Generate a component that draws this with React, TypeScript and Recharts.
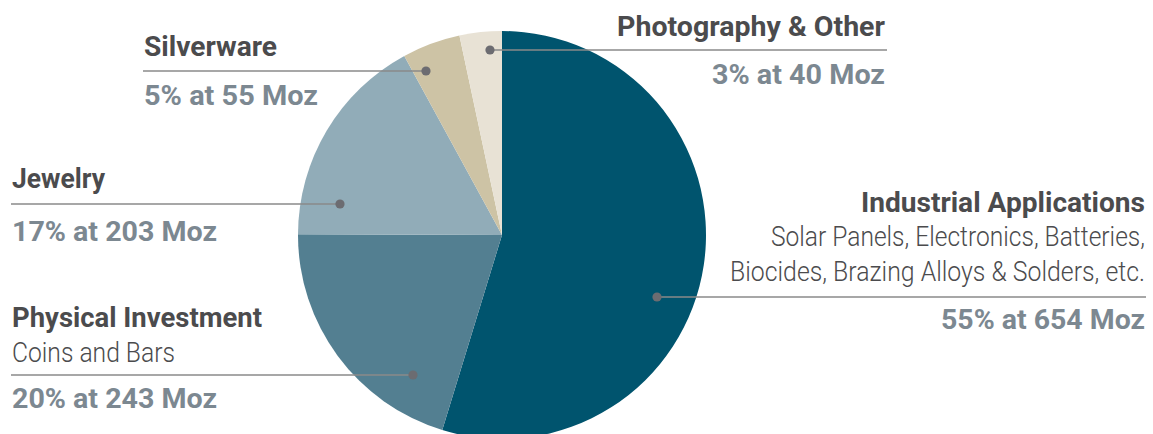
import React from "react";
import { PieChart, Pie, Cell } from "recharts";

// ---- data ----
const categories = [
  "Industrial Applications",
  "Physical Investment",
  "Jewelry",
  "Silverware",
  "Photography & Other",
];
const valuesMoz = [654, 243, 203, 55, 40];
const sharesPct = [55, 20, 17, 5, 3];
const detailLines = [
  ["Solar Panels, Electronics, Batteries,", "Biocides, Brazing Alloys & Solders, etc."],
  ["Coins and Bars"],
  [],
  [],
  [],
];

// ---- styles ----
const sliceColors = ["#00546e", "#537f91", "#91acb8", "#cdc3a5", "#e8e2d5"];
const FONT = "Roboto, 'Noto Sans', sans-serif";
const titleColor = "#4b4b4d";
const valueColor = "#7c8891";
const lineColor = "#8a8a8a";
const dotColor = "#6c6c71";

const data = categories.map((name, i) => ({
  name,
  value: valuesMoz[i],
  share: sharesPct[i],
  details: detailLines[i],
}));

// label layout, offsets relative to pie centre
type LabelLayout = {
  dot: [number, number];
  lineX: number;
  anchor: "start" | "end";
  textX: number;
  titleY: number;
  detailY: number[];
  valueY: number;
  titleW: number;
  detailW: number[];
  valueW: number;
};
const labelLayout: LabelLayout[] = [
  { dot: [155, 62], lineX: 644, anchor: "end", textX: 643, titleY: -23, detailY: [11, 46], valueY: 94, titleW: 284, detailW: [374, 415], valueW: 204 },
  { dot: [-89, 140], lineX: -491, anchor: "start", textX: -490, titleY: 92, detailY: [127], valueY: 173, titleW: 250, detailW: [163], valueW: 205 },
  { dot: [-162, -31], lineX: -491, anchor: "start", textX: -490, titleY: -47, detailY: [], valueY: 6, titleW: 93, detailW: [], valueW: 205 },
  { dot: [-76, -164], lineX: -359, anchor: "start", textX: -358, titleY: -179, detailY: [], valueY: -130, titleW: 133, detailW: [], valueW: 174 },
  { dot: [-12, -185], lineX: 385, anchor: "end", textX: 383, titleY: -199, detailY: [], valueY: -151, titleW: 268, detailW: [], valueW: 173 },
];

const renderLabel = (props: any) => {
  const { cx, cy, index, payload } = props;
  const L = labelLayout[index];
  const d = payload && payload.name ? payload : data[index];
  const dx = cx + L.dot[0];
  const dy = cy + L.dot[1];
  const tx = cx + L.textX;
  return (
    <g key={`lbl-${index}`}>
      <line x1={dx} y1={dy} x2={cx + L.lineX} y2={dy} stroke={lineColor} strokeWidth={1.4} />
      <circle cx={dx} cy={dy} r={4.6} fill={dotColor} />
      <text
        x={tx}
        y={cy + L.titleY}
        textAnchor={L.anchor}
        fontFamily={FONT}
        fontWeight={700}
        fontSize={27}
        fill={titleColor}
        textLength={L.titleW}
        lengthAdjust="spacingAndGlyphs"
      >
        {d.name}
      </text>
      {(d.details as string[]).map((t, j) => (
        <text
          key={j}
          x={tx}
          y={cy + L.detailY[j]}
          textAnchor={L.anchor}
          fontFamily={FONT}
          fontWeight={300}
          fontSize={27}
          fill={titleColor}
          textLength={L.detailW[j]}
          lengthAdjust="spacingAndGlyphs"
        >
          {t}
        </text>
      ))}
      <text
        x={tx}
        y={cy + L.valueY}
        textAnchor={L.anchor}
        fontFamily={FONT}
        fontWeight={700}
        fontSize={27}
        fill={valueColor}
        textLength={L.valueW}
        lengthAdjust="spacingAndGlyphs"
      >
        {`${d.share}% at ${d.value} Moz`}
      </text>
    </g>
  );
};

export default function App() {
  return (
    <div style={{ position: "absolute", left: 0, top: 0, width: 1153, height: 434, background: "#ffffff", overflow: "hidden" }}>
      <PieChart width={1153} height={434} margin={{ top: 0, right: 0, bottom: 0, left: 0 }}>
        <Pie
          data={data}
          dataKey="value"
          nameKey="name"
          cx={502}
          cy={235}
          innerRadius={0}
          outerRadius={204}
          startAngle={90}
          endAngle={-270}
          stroke="none"
          isAnimationActive={false}
          label={renderLabel}
          labelLine={false}
        >
          {data.map((entry, i) => (
            <Cell key={entry.name} fill={sliceColors[i]} />
          ))}
        </Pie>
      </PieChart>
    </div>
  );
}
